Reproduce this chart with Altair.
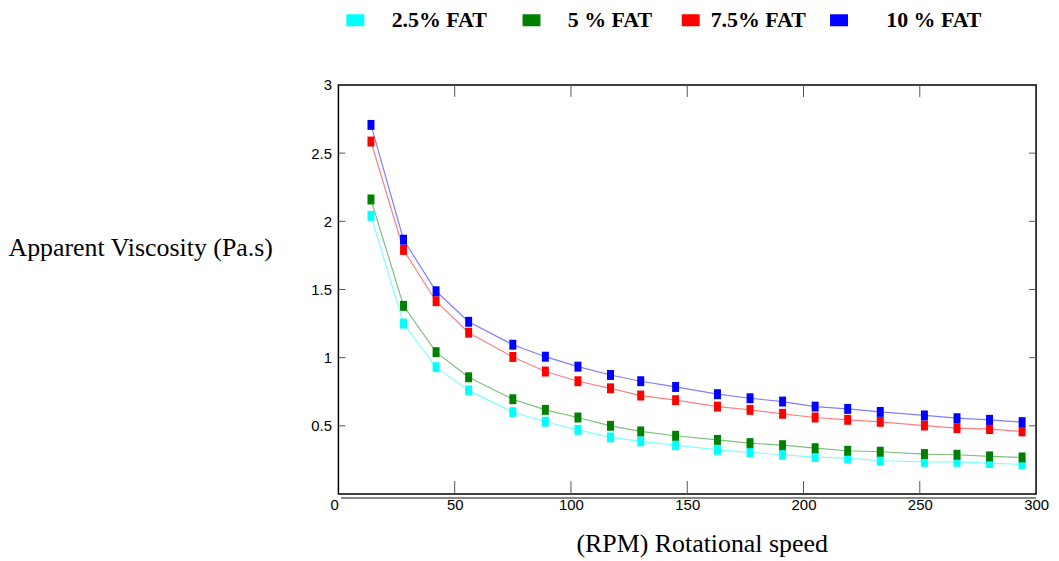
import altair as alt
import pandas as pd

# ---- data ----
rpm = [14, 28, 42, 56, 75, 89, 103, 117, 130, 145,
       163, 177, 191, 205, 219, 233, 252, 266, 280, 294]
fat_2_5 = [2.04, 1.25, 0.93, 0.76, 0.60, 0.53, 0.47, 0.415, 0.386, 0.358,
           0.324, 0.305, 0.288, 0.271, 0.263, 0.244, 0.236, 0.236, 0.227, 0.217]
fat_5 = [2.16, 1.38, 1.04, 0.856, 0.695, 0.617, 0.561, 0.50, 0.459, 0.427,
         0.397, 0.373, 0.358, 0.336, 0.317, 0.310, 0.293, 0.288, 0.276, 0.268]
fat_7_5 = [2.585, 1.79, 1.414, 1.183, 1.005, 0.898, 0.827, 0.775, 0.722, 0.688,
           0.641, 0.617, 0.588, 0.561, 0.544, 0.529, 0.502, 0.483, 0.476, 0.459]
fat_10 = [2.707, 1.865, 1.487, 1.263, 1.095, 1.007, 0.934, 0.873, 0.827, 0.785,
          0.732, 0.702, 0.678, 0.641, 0.624, 0.602, 0.576, 0.556, 0.544, 0.527]

series_names = ["2.5% FAT", "5 % FAT", "7.5% FAT", "10 % FAT"]
series_colors = ["#00ffff", "#008000", "#ff0000", "#0000ff"]
x_ticks = [0, 50, 100, 150, 200, 250, 300]
y_ticks = [0.5, 1, 1.5, 2, 2.5, 3]
inner_x_ticks = [50, 100, 150, 200, 250]
inner_y_ticks = [0.5, 1, 1.5, 2, 2.5]

rows = []
for name, vals in zip(series_names, [fat_2_5, fat_5, fat_7_5, fat_10]):
    for r, v in zip(rpm, vals):
        rows.append({"rpm": r, "visc": v, "series": name})
df = pd.DataFrame(rows)

W, H = 701, 411
xs = alt.Scale(domain=[0, 300], nice=False, zero=False)
ys = alt.Scale(domain=[0, 3], nice=False, zero=False)

x_axis = alt.Axis(
    values=x_ticks, ticks=False, domain=False, grid=False,
    labelFont="Liberation Sans", labelFontSize=15, labelColor="black",
    labelPadding=4, labelFlush=False,
    labelAlign={"condition": {"test": "datum.value === 0", "value": "right"}, "value": "center"},
    title="(RPM) Rotational speed", titleFont="Liberation Serif",
    titleFontSize=26, titleFontWeight="normal", titleColor="black",
    titleX=365, titleY=58, titleAlign="center", titleBaseline="alphabetic",
)
y_axis = alt.Axis(
    values=y_ticks, ticks=False, domain=False, grid=False, format="~g",
    labelFont="Liberation Sans", labelFontSize=15, labelColor="black",
    labelPadding=7, labelFlush=False,
    title="Apparent Viscosity (Pa.s)", titleFont="Liberation Serif",
    titleFontSize=26, titleFontWeight="normal", titleColor="black",
    titleAngle=0, titleX=-332, titleY=171, titleAlign="left",
    titleBaseline="alphabetic",
)

nb = "\u00a0"
zw = "\u200b"
label_expr = (
    f"datum.label === '2.5% FAT' ? '{zw}{nb*3}2.5% FAT{nb*2}{zw}' : "
    f"datum.label === '5 % FAT' ? '{zw}{nb*3}5 % FAT{nb}{zw}' : "
    f"datum.label === '10 % FAT' ? '{zw}{nb*5}10 % FAT' : datum.label"
)

base = alt.Chart(df)

lines = base.mark_line(strokeWidth=1.2, opacity=0.5).encode(
    x=alt.X("rpm:Q", scale=xs, axis=x_axis),
    y=alt.Y("visc:Q", scale=ys, axis=y_axis),
    color=alt.Color("series:N", scale=alt.Scale(domain=series_names, range=series_colors), legend=None),
    detail="series:N",
)

points = base.mark_point(
    shape="M-0.7,-1H0.7V1H-0.7Z", filled=True, size=100, opacity=1, strokeWidth=0
).encode(
    x=alt.X("rpm:Q", scale=xs),
    y=alt.Y("visc:Q", scale=ys),
    color=alt.Color(
        "series:N",
        scale=alt.Scale(domain=series_names, range=series_colors),
        legend=alt.Legend(
            title=None, orient="none", direction="horizontal",
            legendX=6, legendY=-76,
            symbolType="M-1,-0.67H1V0.67H-1Z", symbolSize=324,
            symbolOpacity=1, symbolStrokeWidth=0,
            labelFont="Liberation Serif", labelFontWeight="bold",
            labelFontSize=22, labelColor="black", labelOffset=9,
            columnPadding=22, labelLimit=300, labelExpr=label_expr,
            padding=0,
        ),
    ),
)

xt = pd.DataFrame({"t": inner_x_ticks})
yt = pd.DataFrame({"t": inner_y_ticks})
tick_color = "#555555"

bottom_ticks = alt.Chart(xt).mark_rule(color=tick_color, strokeWidth=1).encode(
    x=alt.X("t:Q", scale=xs), y=alt.value(H), y2=alt.value(H - 13))
top_ticks = alt.Chart(xt).mark_rule(color=tick_color, strokeWidth=1).encode(
    x=alt.X("t:Q", scale=xs), y=alt.value(0), y2=alt.value(12))
left_ticks = alt.Chart(yt).mark_rule(color=tick_color, strokeWidth=1).encode(
    y=alt.Y("t:Q", scale=ys), x=alt.value(0), x2=alt.value(7))
right_ticks = alt.Chart(yt).mark_rule(color=tick_color, strokeWidth=1).encode(
    y=alt.Y("t:Q", scale=ys), x=alt.value(W - 7), x2=alt.value(W))
under_line = alt.Chart(xt).mark_rule(color="#8a8a8a", strokeWidth=1.5).encode(
    x=alt.value(3), x2=alt.value(W), y=alt.value(H + 4))

chart = alt.layer(
    lines, points, bottom_ticks, top_ticks, left_ticks, right_ticks, under_line
).resolve_scale(color="independent").properties(
    width=W, height=H, padding={"left": 0, "top": 0, "right": 2, "bottom": 2}
).configure(background="white").configure_view(stroke="black", strokeWidth=1.5)

chart.save("out.html", embed_options={"renderer": "svg", "actions": False})
